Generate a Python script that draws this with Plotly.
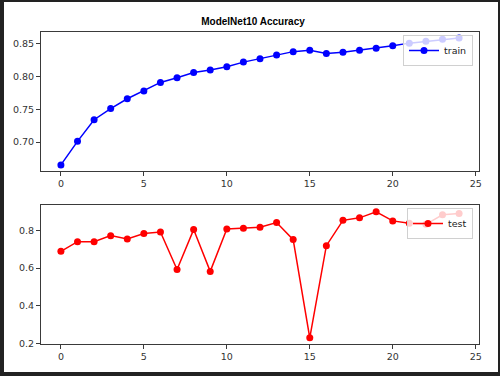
# ModelNet10 accuracy per epoch: train (top) and test (bottom)

import plotly.graph_objects as go

# ── Data ─────────────────────────────────────────────────────
epochs = list(range(25))

train_acc = [
    0.665, 0.701, 0.734, 0.751, 0.766, 0.778, 0.791, 0.798, 0.806, 0.810,
    0.815, 0.822, 0.827, 0.833, 0.838, 0.840, 0.835, 0.837, 0.840, 0.843,
    0.847, 0.851, 0.854, 0.857, 0.859,
]

test_acc = [
    0.689, 0.740, 0.740, 0.772, 0.754, 0.783, 0.791, 0.593, 0.804, 0.583,
    0.807, 0.811, 0.816, 0.841, 0.751, 0.232, 0.719, 0.853, 0.866, 0.898,
    0.850, 0.837, 0.832, 0.882, 0.889,
]

x_ticks = [0, 5, 10, 15, 20, 25]
train_ticks = [0.70, 0.75, 0.80, 0.85]
test_ticks = [0.2, 0.4, 0.6, 0.8]

W, H = 500, 376
TICK_FONT = dict(family="DejaVu Sans", size=9.5, color="#333333")
SPINE = "#3a3a3a"

fig = go.Figure()

fig.add_trace(go.Scatter(
    x=epochs, y=train_acc, name="train",
    mode="lines+markers",
    line=dict(color="#0000ff", width=1.5),
    marker=dict(size=7, color="#0000ff"),
    xaxis="x", yaxis="y", legend="legend",
))

fig.add_trace(go.Scatter(
    x=epochs, y=test_acc, name="test",
    mode="lines+markers",
    line=dict(color="#ff0000", width=1.5),
    marker=dict(size=7, color="#ff0000"),
    xaxis="x2", yaxis="y2", legend="legend2",
))


def x_axis(anchor):
    return dict(
        domain=[41 / W, 479 / W], anchor=anchor,
        range=[-1.2, 25.2], tickvals=x_ticks,
        showgrid=False, zeroline=False, automargin=False,
        showline=True, linecolor=SPINE, linewidth=1, mirror=True,
        ticks="outside", ticklen=4, tickcolor=SPINE,
        tickfont=TICK_FONT,
    )


def y_axis(anchor, top_px, bot_px, rng, vals, fmt):
    return dict(
        domain=[1 - bot_px / H, 1 - top_px / H], anchor=anchor,
        range=rng, tickvals=vals, tickformat=fmt,
        showgrid=False, zeroline=False, automargin=False,
        showline=True, linecolor=SPINE, linewidth=1, mirror=True,
        ticks="outside", ticklen=4, tickcolor=SPINE,
        tickfont=TICK_FONT,
    )


legend_style = dict(
    bgcolor="rgba(255,255,255,0.8)",
    bordercolor="#d0d0d0", borderwidth=1,
    font=dict(family="DejaVu Sans", size=9.5, color="#222222"),
    xanchor="right", yanchor="top",
    xref="paper", yref="paper",
    tracegroupgap=0, itemwidth=30,
)

# dark frame round the screenshot
frame = "#222222"
shapes = [
    dict(type="rect", xref="paper", yref="paper", x0=0, x1=4 / W, y0=0, y1=1,
         fillcolor=frame, line_width=0, layer="above"),
    dict(type="rect", xref="paper", yref="paper", x0=0, x1=1, y0=1 - 2 / H, y1=1,
         fillcolor=frame, line_width=0, layer="above"),
    dict(type="rect", xref="paper", yref="paper", x0=0, x1=1, y0=0, y1=4 / H,
         fillcolor=frame, line_width=0, layer="above"),
    dict(type="rect", xref="paper", yref="paper", x0=498 / W, x1=1, y0=0, y1=1,
         fillcolor=frame, line_width=0, layer="above"),
]

fig.update_layout(
    width=W, height=H,
    margin=dict(l=0, r=0, t=0, b=0, autoexpand=False),
    paper_bgcolor="white", plot_bgcolor="white",
    title=dict(
        text="<b>ModelNet10 Accuracy</b>",
        font=dict(family="Liberation Sans", size=10, color="black"),
        x=253 / W, xanchor="center",
        y=1 - 21 / H, yanchor="middle",
    ),
    xaxis=x_axis("y"),
    yaxis=y_axis("x", 32, 171, [0.6557, 0.868], train_ticks, ".2f"),
    xaxis2=x_axis("y2"),
    yaxis2=y_axis("x2", 205, 344, [0.199, 0.934], test_ticks, ".1f"),
    legend=dict(legend_style, x=473 / W, y=1 - 35 / H),
    legend2=dict(legend_style, x=473 / W, y=1 - 208 / H),
    shapes=shapes,
    showlegend=True,
)

# drop the page's default body margin so the figure sits at (0, 0)
fig.write_html(
    "out.html",
    config={"displayModeBar": False},
    post_script="document.body.style.margin='0';document.body.style.overflow='hidden';",
)
